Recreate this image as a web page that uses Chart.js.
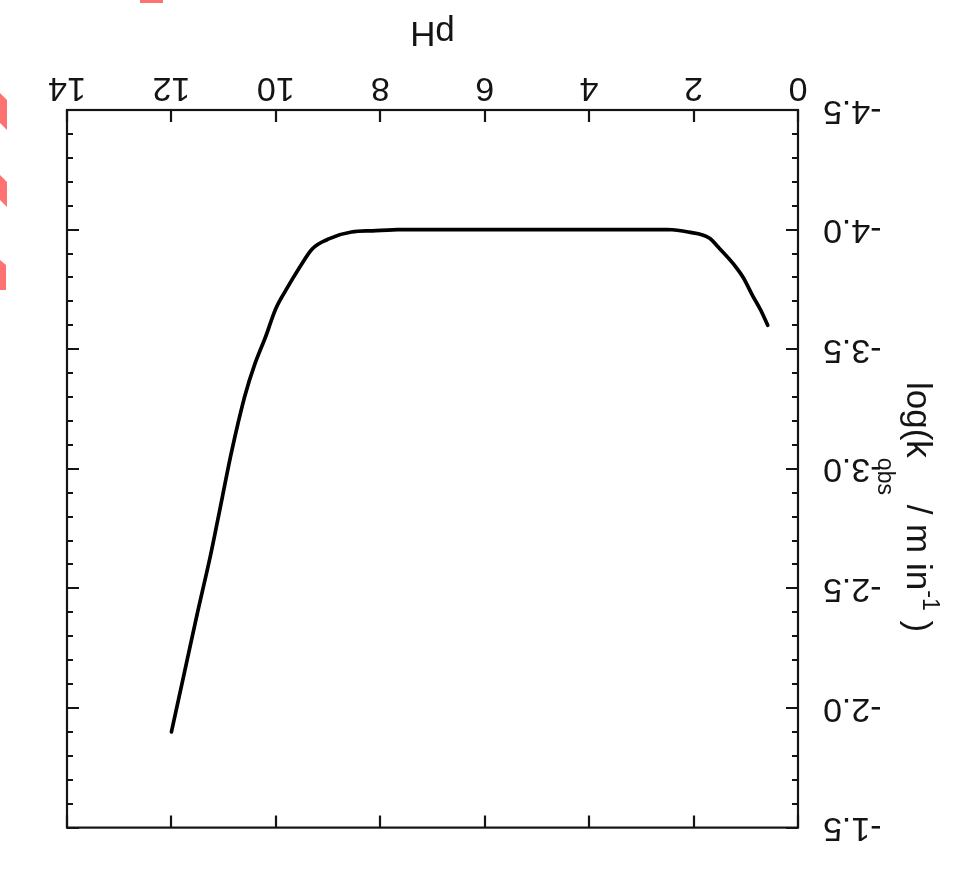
<!DOCTYPE html>
<html>
<head>
<meta charset="utf-8">
<script src="https://cdn.jsdelivr.net/npm/chart.js@4.4.1/dist/chart.umd.min.js"></script>
<style>
    html, body { margin: 0; padding: 0; background: #fff; overflow: hidden; }
    /* the reference figure is printed upside down */
    #wrap { width: 971px; height: 873px; transform: rotate(180deg); }
</style>
</head>
<body>
<div id="wrap"><canvas id="phChart" width="971" height="873"></canvas></div>
<script>
// pH-rate profile
const phValues = [0.58, 0.73, 0.86, 1.05, 1.25, 1.5, 1.7, 2.1, 2.5, 4, 6, 7.6, 8.15, 8.55, 9.0, 9.3, 9.55, 9.8, 10.0, 10.2, 10.4, 10.6, 10.85, 11.1, 11.25, 11.5, 11.75, 12.0];
const logK = [-3.60, -3.67, -3.72, -3.80, -3.86, -3.92, -3.965, -3.99, -4.0, -4.0, -4.0, -4.0, -3.995, -3.99, -3.96, -3.92, -3.84, -3.75, -3.67, -3.55, -3.44, -3.30, -3.07, -2.80, -2.64, -2.40, -2.15, -1.90];

const xTicks = [0, 2, 4, 6, 8, 10, 12, 14];
const yTicks = [-4.5, -4.0, -3.5, -3.0, -2.5, -2.0, -1.5];
const yTickLabels = ["-4.5", "-4.0", "-3.5", "-3.0", "-2.5", "-2.0", "-1.5"];

const FONT = "'Liberation Sans', Arial, sans-serif";

const frameAndTicks = {
    id: "frameAndTicks",
    afterDraw(chart) {
        const { ctx, chartArea: a } = chart;
        const x = chart.scales.x, y = chart.scales.y;
        ctx.save();
        ctx.strokeStyle = "#141414";
        ctx.lineWidth = 2.2;
        ctx.strokeRect(a.left, a.top, a.right - a.left, a.bottom - a.top);

        // inward ticks on all four sides
        ctx.beginPath();
        xTicks.forEach((v) => {
            const px = Math.round(x.getPixelForValue(v));
            ctx.moveTo(px, a.bottom); ctx.lineTo(px, a.bottom - 12);
            ctx.moveTo(px, a.top); ctx.lineTo(px, a.top + 12);
        });
        for (let i = 0; i <= 30; i++) {
            const py = Math.round(y.getPixelForValue(-4.5 + i / 10));
            const len = i % 5 === 0 ? 12 : 6;
            ctx.moveTo(a.left, py); ctx.lineTo(a.left + len, py);
            ctx.moveTo(a.right, py); ctx.lineTo(a.right - len, py);
        }
        ctx.stroke();

        // x title
        ctx.fillStyle = "#141414";
        ctx.font = "35px " + FONT;
        ctx.textAlign = "center";
        ctx.textBaseline = "alphabetic";
        ctx.fillText("pH", (a.left + a.right) / 2, 851);

        // y title with sub/superscript
        ctx.translate(64, 491);
        ctx.rotate(-Math.PI / 2);
        ctx.textAlign = "left";
        const parts = [
            { t: "log(k", size: 35, dy: 0 },
            { t: "obs", size: 23, dy: 29 },
            { t: " / m in", size: 35, dy: 0 },
            { t: "-1", size: 23, dy: -16 },
            { t: " )", size: 35, dy: 0 },
        ];
        let cx = 0;
        parts.forEach((p) => {
            ctx.font = p.size + "px " + FONT;
            ctx.fillText(p.t, cx, p.dy);
            cx += ctx.measureText(p.t).width;
        });
        ctx.restore();

        // red scraps cut off at the edge of the scan (drawn in page orientation)
        ctx.save();
        ctx.translate(971, 873);
        ctx.rotate(Math.PI);
        ctx.fillStyle = "#ff7272";
        const scraps = [
            [[0, 93], [7, 100], [7, 130], [0, 123]],
            [[0, 175], [7, 182], [7, 207], [0, 200]],
            [[0, 260], [6, 265], [6, 290], [0, 290]],
            [[140, 0], [163, 0], [163, 3], [140, 3]],
        ];
        scraps.forEach((s) => {
            ctx.beginPath();
            s.forEach(([px, py], i) => (i ? ctx.lineTo(px, py) : ctx.moveTo(px, py)));
            ctx.closePath();
            ctx.fill();
        });
        ctx.restore();
    },
};

new Chart(document.getElementById("phChart"), {
    type: "scatter",
    data: {
        datasets: [
            {
                data: phValues.map((v, i) => ({ x: v, y: logK[i] })),
                showLine: true,
                borderColor: "#000",
                borderWidth: 3.7,
                pointRadius: 0,
                cubicInterpolationMode: "monotone",
                borderCapStyle: "round",
                borderJoinStyle: "round",
            },
        ],
    },
    options: {
        responsive: false,
        animation: false,
        devicePixelRatio: 1,
        layout: { padding: { left: 0, right: 67, top: 42, bottom: 0 } },
        plugins: { legend: { display: false }, tooltip: { enabled: false } },
        scales: {
            x: {
                type: "linear",
                min: 0,
                max: 14,
                grid: { display: false, drawTicks: false },
                border: { display: false },
                ticks: {
                    stepSize: 2,
                    padding: 2,
                    color: "#141414",
                    font: { family: FONT, size: 34 },
                    maxRotation: 0,
                },
                afterFit: (s) => { s.height = 110; },
            },
            y: {
                type: "linear",
                min: -4.5,
                max: -1.5,
                grid: { display: false, drawTicks: false },
                border: { display: false },
                ticks: {
                    stepSize: 0.5,
                    padding: 25,
                    color: "#141414",
                    font: { family: FONT, size: 34 },
                    callback: (v) => yTickLabels[yTicks.indexOf(v)] ?? "",
                },
                afterFit: (s) => { s.width = 173; },
            },
        },
    },
    plugins: [frameAndTicks],
});
</script>
</body>
</html>
